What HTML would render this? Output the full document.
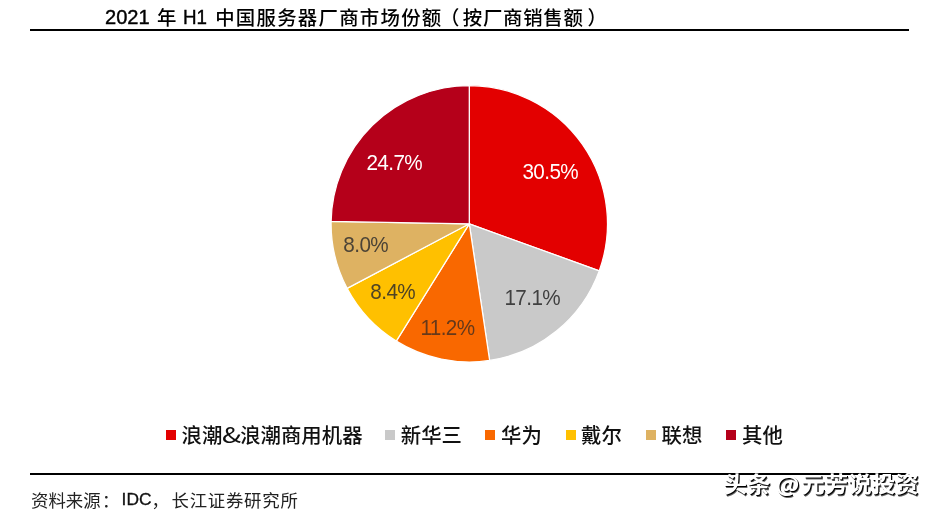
<!DOCTYPE html>
<html lang="zh-CN">
<head>
<meta charset="utf-8">
<title>2021 年 H1 中国服务器厂商市场份额</title>
<style>
html,body{margin:0;padding:0;background:#fff;}
body{width:936px;height:512px;position:relative;overflow:hidden;font-family:"Liberation Sans","Noto Sans CJK SC",sans-serif;color:#000;}
.abs{position:absolute;white-space:nowrap;line-height:1;}
.title{top:4px;font-size:20.5px;color:#000;}
.rule{position:absolute;background:#000;height:2px;}
.lbl{font-family:"Liberation Sans",sans-serif;font-size:21px;letter-spacing:-0.6px;transform:scale(0.985,1.05);}
.w{color:#fff;}
.d{color:#404040;}
.lg{font-family:"Noto Sans CJK SC","Liberation Sans",sans-serif;font-size:20.4px;font-weight:500;color:#111;top:423.7px;}
.sq{position:absolute;width:10px;height:10px;top:429.5px;}
.src{top:493px;font-size:17.4px;color:#222;}
.cjk{font-weight:400;}
.wm{left:723.4px;top:470.8px;transform-origin:0 100%;transform:scaleY(0.91);font-family:"Noto Sans CJK SC","Liberation Sans",sans-serif;font-weight:700;font-size:23.5px;color:#fff;text-shadow:1px 1px 0 #000,1.5px 1.5px 0 rgba(0,0,0,.6);}
svg{position:absolute;left:0;top:0;}
</style>
</head>
<body>
<div class="abs title" id="t1" style="left:105.1px;top:5.9px;font-size:20.2px;-webkit-text-stroke:0.4px #000;transform-origin:0 20%;transform:scale(0.995,1.045);">2021</div>
<div class="abs title" id="t2" style="left:156.9px;top:9.2px;font-weight:500;font-size:19.4px;letter-spacing:1.1px;">年</div>
<div class="abs title" id="t3" style="left:182.6px;top:5.9px;font-size:20.2px;-webkit-text-stroke:0.4px #000;transform-origin:0 20%;transform:scale(0.93,1.045);">H1</div>
<div class="abs title" id="t4" style="left:215.2px;top:9.2px;font-weight:500;font-size:19.4px;letter-spacing:1.27px;">中国服务器厂商市场份额</div>
<div class="abs title" id="t5" style="left:440.1px;top:9.2px;font-weight:500;font-size:19.4px;">（</div>
<div class="abs title" id="t6" style="left:462.8px;top:9.2px;font-weight:500;font-size:19.4px;letter-spacing:0.75px;">按厂商销售额</div>
<div class="abs title" id="t7" style="left:587.4px;top:9.2px;font-weight:500;font-size:19.4px;">）</div>
<div class="rule" style="left:30px;top:28.8px;width:879px;"></div>

<svg width="936" height="512" viewBox="0 0 936 512">
<g stroke="#fff" stroke-width="1.25" stroke-linejoin="round">
<path d="M469.3 223.8L469.30 85.60A138.2 138.2 0 0 1 599.24 270.86Z" fill="#E30000"/>
<path d="M469.3 223.8L599.24 270.86A138.2 138.2 0 0 1 489.65 360.49Z" fill="#C9C9C9"/>
<path d="M469.3 223.8L489.65 360.49A138.2 138.2 0 0 1 396.29 341.14Z" fill="#F96800"/>
<path d="M469.3 223.8L396.29 341.14A138.2 138.2 0 0 1 347.09 288.34Z" fill="#FFC000"/>
<path d="M469.3 223.8L347.09 288.34A138.2 138.2 0 0 1 331.12 221.41Z" fill="#DEB262"/>
<path d="M469.3 223.8L331.12 221.41A138.2 138.2 0 0 1 469.30 85.60Z" fill="#B5001A"/>
</g>
</svg>

<div class="abs lbl w" id="l1" style="left:521.7px;top:161.2px;">30.5%</div>
<div class="abs lbl d" id="l2" style="left:504.3px;top:287.2px;">17.1%</div>
<div class="abs lbl d" id="l3" style="color:#66391a;left:420.1px;top:317.2px;">11.2%</div>
<div class="abs lbl d" id="l4" style="color:#4f4424;left:369.9px;top:281.1px;">8.4%</div>
<div class="abs lbl d" id="l5" style="color:#4b4336;left:343.0px;top:234.2px;">8.0%</div>
<div class="abs lbl w" id="l6" style="left:365.8px;top:152.2px;">24.7%</div>

<div class="sq" style="left:166px;background:#E30000;"></div>
<div class="abs lg" id="g1" style="left:181.5px;">浪潮</div>
<div class="abs lg" id="g1b" style="left:222px;top:421.8px;font-size:22px;font-weight:400;transform-origin:0 50%;transform:scaleX(1.28);">&amp;</div>
<div class="abs lg" id="g1c" style="left:240.2px;">浪潮商用机器</div>
<div class="sq" style="left:385.3px;background:#C9C9C9;"></div>
<div class="abs lg" id="g2" style="left:400.8px;">新华三</div>
<div class="sq" style="left:485.3px;background:#F96800;"></div>
<div class="abs lg" id="g3" style="left:501px;">华为</div>
<div class="sq" style="left:565.6px;background:#FFC000;"></div>
<div class="abs lg" id="g4" style="left:581px;">戴尔</div>
<div class="sq" style="left:645.9px;background:#DEB262;"></div>
<div class="abs lg" id="g5" style="left:661.5px;">联想</div>
<div class="sq" style="left:726.2px;background:#B5001A;"></div>
<div class="abs lg" id="g6" style="left:742px;">其他</div>

<div class="rule" style="left:30px;top:473px;width:877.3px;"></div>
<div class="abs src cjk" id="s1" style="left:31px;">资料来源</div>
<div class="abs src cjk" id="s1b" style="left:102.1px;">：</div>
<div class="abs src" id="s2" style="left:121.6px;top:491.4px;color:#111;-webkit-text-stroke:0.3px #111;">IDC</div>
<div class="abs src cjk" id="s3" style="left:151.6px;">，</div>
<div class="abs src cjk" id="s4" style="left:171.5px;letter-spacing:0.76px;">长江证券研究所</div>
<div class="abs wm">头条 @<span style="margin-left:1.8px">元芳说投资</span></div>
</body>
</html>
